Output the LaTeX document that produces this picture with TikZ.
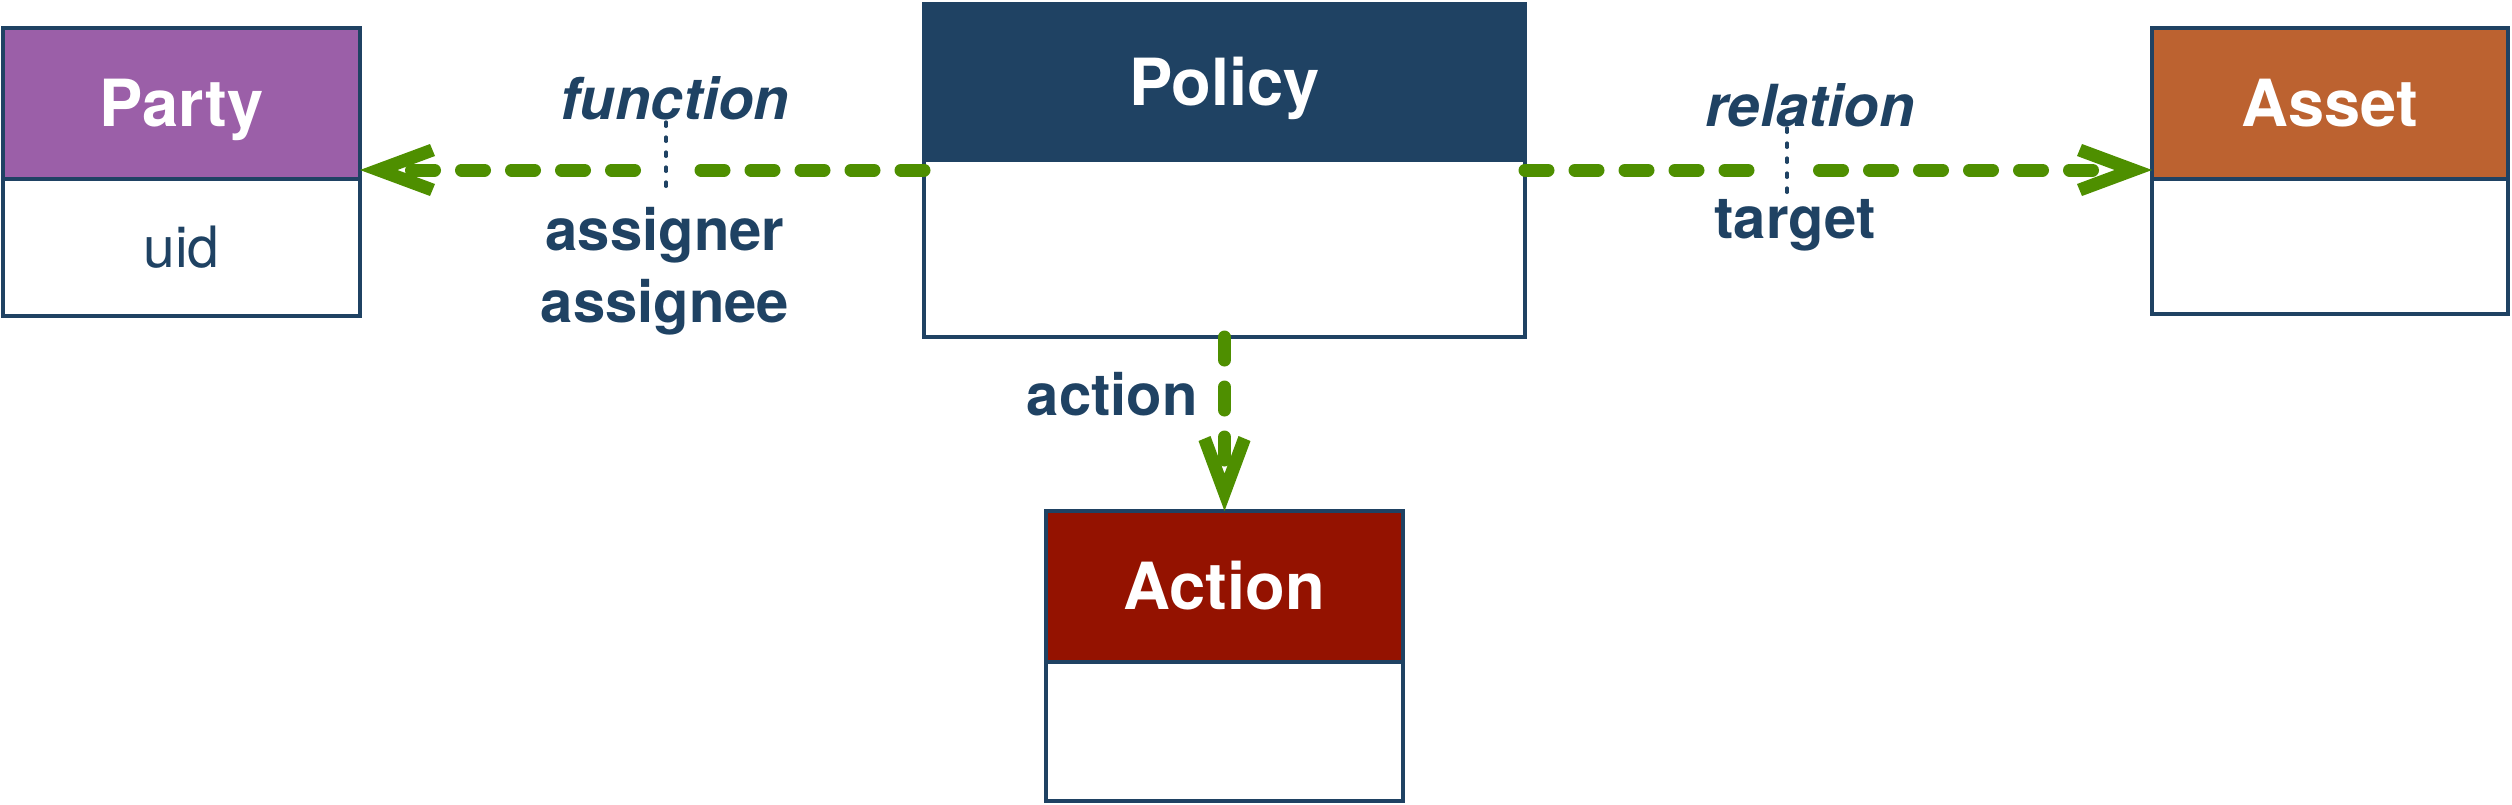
\documentclass[tikz,border=0pt]{standalone}
\usepackage{fontspec}
\setmainfont{TeX Gyre Heros}
\usetikzlibrary{arrows.meta,calc}
\definecolor{navy}{HTML}{1F4263}
\definecolor{partyc}{HTML}{9B5FA8}
\definecolor{assetc}{HTML}{BC6230}
\definecolor{actionc}{HTML}{941200}
\definecolor{grn}{HTML}{4E8F00}
\pgfdeclarearrow{
  name = ChevronTip,
  parameters = {},
  setup code = {
    \pgfarrowssettipend{0pt}
    \pgfarrowssetlineend{-19pt}
    \pgfarrowssetvisualbackend{-37.5pt}
    \pgfarrowssetbackend{-37.5pt}
    \pgfarrowshullpoint{0pt}{0pt}
    \pgfarrowsupperhullpoint{-37.5pt}{13pt}
  },
  drawing code = {
    \pgfsetfillcolor{grn}
    \pgfpathmoveto{\pgfqpoint{0pt}{0pt}}
    \pgfpathlineto{\pgfqpoint{-35pt}{13pt}}
    \pgfpathlineto{\pgfqpoint{-37.5pt}{7pt}}
    \pgfpathlineto{\pgfqpoint{-18.7pt}{0pt}}
    \pgfpathlineto{\pgfqpoint{-37.5pt}{-7pt}}
    \pgfpathlineto{\pgfqpoint{-35pt}{-13pt}}
    \pgfpathclose
    \pgfusepathqfill
  }
}
\begin{document}
\begin{tikzpicture}[x=0.5pt,y=-0.5pt,
  hdr/.style={draw=navy, line width=1.6pt, inner sep=0pt, outer sep=0pt, text=white,
    font=\fontsize{32.5}{36}\selectfont\bfseries, text height=23.4pt, text depth=0pt, anchor=north west},
  bdy/.style={draw=navy, line width=1.6pt, inner sep=0pt, outer sep=0pt, fill=white, anchor=north west,
    text=navy, font=\fontsize{28.5}{34}\selectfont},
  rel/.style={draw=grn, line width=6.5pt, dash pattern=on 11.5pt off 13.5pt, line cap=round},
  arrowend/.style={-{ChevronTip}},
  lbl/.style={text=navy, font=\fontsize{29}{36}\selectfont\bfseries, inner sep=0pt, anchor=base},
  ilbl/.style={lbl, font=\fontsize{29}{36}\selectfont\bfseries\itshape},
  leader/.style={draw=navy, line width=1.6pt, dash pattern=on 2.2pt off 5.3pt, line cap=round}]
\useasboundingbox (0,0) rectangle (2512,804);

% Party
\node[bdy, minimum width=178.5pt, minimum height=68.5pt] (pabody) at (3,179) {uid};
\node[hdr, fill=partyc, minimum width=178.5pt, minimum height=75.5pt] (pahead) at (3,28) {Party};

% Policy
\node[bdy, minimum width=300.5pt, minimum height=88.5pt] (pbody) at (924,160) {};
\node[hdr, fill=navy, minimum width=300.5pt, minimum height=78pt] (phead) at (924,4) {Policy};

% Asset
\node[bdy, minimum width=178pt, minimum height=67.5pt] (asbody) at (2152,179) {};
\node[hdr, fill=assetc, minimum width=178pt, minimum height=75.5pt] (ashead) at (2152,28) {Asset};

% Action
\node[bdy, minimum width=178.5pt, minimum height=69.5pt] (acbody) at (1046,662) {};
\node[hdr, fill=actionc, minimum width=178.5pt, minimum height=75.5pt] (achead) at (1046,511) {Action};

% connectors
\coordinate (lstart) at ([yshift=-5pt]pbody.north west);
\coordinate (lgapR) at (690,170);
\coordinate (lgapL) at (634.5,170);
\coordinate (rstart) at ([yshift=-5pt]pbody.north east);
\coordinate (rgapL) at (1760,170);
\coordinate (rgapR) at (1819.5,170);

\draw[rel] (lstart) -- (lgapR);
\draw[rel, arrowend] (lgapL) -- (pahead.east |- lgapL);
\draw[rel] (rstart) -- (rgapL);
\draw[rel, arrowend] (rgapR) -- (ashead.west |- rgapR);
\draw[rel, arrowend] (pbody.south) -- (achead.north);

% labels
\node[ilbl] (function) at (675,119) {function};
\node[lbl] (assigner) at (665,250) {assigner};
\node[lbl] (assignee) at (665,322) {assignee};
\node[ilbl] (relation) at (1810,126) {relation};
\node[lbl] (target) at (1795,238) {target};
\node[lbl, anchor=base east] (action) at (1198,415) {action};

% leaders
\coordinate (fl1) at (666,122);
\coordinate (fl2) at (666,196);
\coordinate (rl1) at (1787,128);
\coordinate (rl2) at (1787,201);
\draw[leader] (fl1) -- (fl2);
\draw[leader] (rl1) -- (rl2);
\end{tikzpicture}
\end{document}
